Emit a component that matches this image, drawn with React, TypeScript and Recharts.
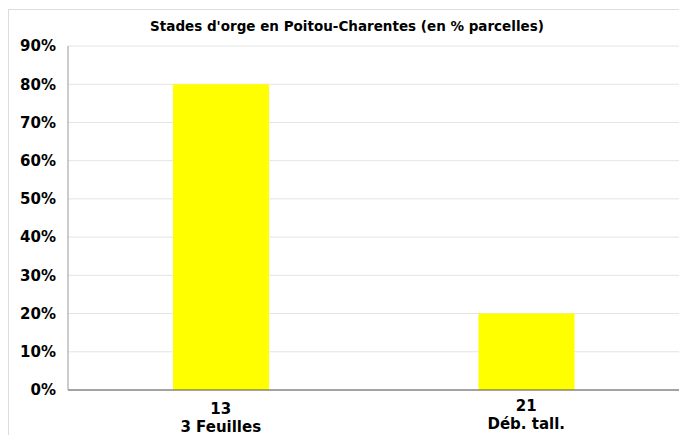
import React from "react";
import { BarChart, Bar, XAxis, YAxis, CartesianGrid } from "recharts";

const stageCodes = ["13", "21"];
const stageNames = ["3 Feuilles", "Déb. tall."];
const shares = [80, 20];
const yTicks = [0, 10, 20, 30, 40, 50, 60, 70, 80, 90];
const title = "Stades d'orge en Poitou-Charentes (en % parcelles)";

const data = stageCodes.map((c, i) => ({ code: c, name: stageNames[i], value: shares[i] }));

const FONT = "'DejaVu Sans', Verdana, sans-serif";

const XTick = (props: any) => {
  const { x, y, payload, index } = props;
  const idx = index ?? stageCodes.indexOf(payload.value);
  const tight = idx === 1;
  return (
    <g>
      <text x={x} y={y + (tight ? 13 : 16)} textAnchor="middle" fontFamily={FONT} fontWeight="bold" fontSize={15} fill="#000">
        {payload.value}
      </text>
      <text x={x} y={y + (tight ? 31 : 34)} textAnchor="middle" fontFamily={FONT} fontWeight="bold" fontSize={15} fill="#000">
        {stageNames[idx]}
      </text>
    </g>
  );
};

export default function App() {
  return (
    <div style={{ position: "fixed", left: 0, top: 0, width: 679, height: 435, overflow: "hidden", background: "#fff" }}>
      <style>{`html,body{margin:0;overflow:hidden;}`}</style>
      <div style={{ position: "absolute", left: 8, top: 9, width: 671, height: 426, borderTop: "1px solid #dcdcdc", borderLeft: "1px solid #dcdcdc" }} />
      <div style={{ position: "absolute", left: 9, top: 10 }}>
        <BarChart width={670} height={425} data={data} margin={{ top: 36, right: 0, bottom: 0, left: 0 }} barSize={96}>
          <text x={338} y={21} textAnchor="middle" fontFamily={FONT} fontWeight="bold" fontSize={13.5} fill="#000">
            {title}
          </text>
          <CartesianGrid vertical={false} stroke="#e4e4e4" />
          <XAxis dataKey="code" tick={<XTick />} tickLine={false} axisLine={{ stroke: "#555" }} interval={0} height={45} />
          <YAxis
            domain={[0, 90]}
            ticks={yTicks}
            interval={0}
            width={59}
            tickLine={false}
            axisLine={{ stroke: "#999" }}
            tickFormatter={(v: number) => `${v}%`}
            tick={{ fontFamily: FONT, fontWeight: "bold", fontSize: 15, fill: "#000" }}
            tickMargin={6}
          />
          <Bar dataKey="value" fill="#ffff00" isAnimationActive={false} />
        </BarChart>
      </div>
    </div>
  );
}
